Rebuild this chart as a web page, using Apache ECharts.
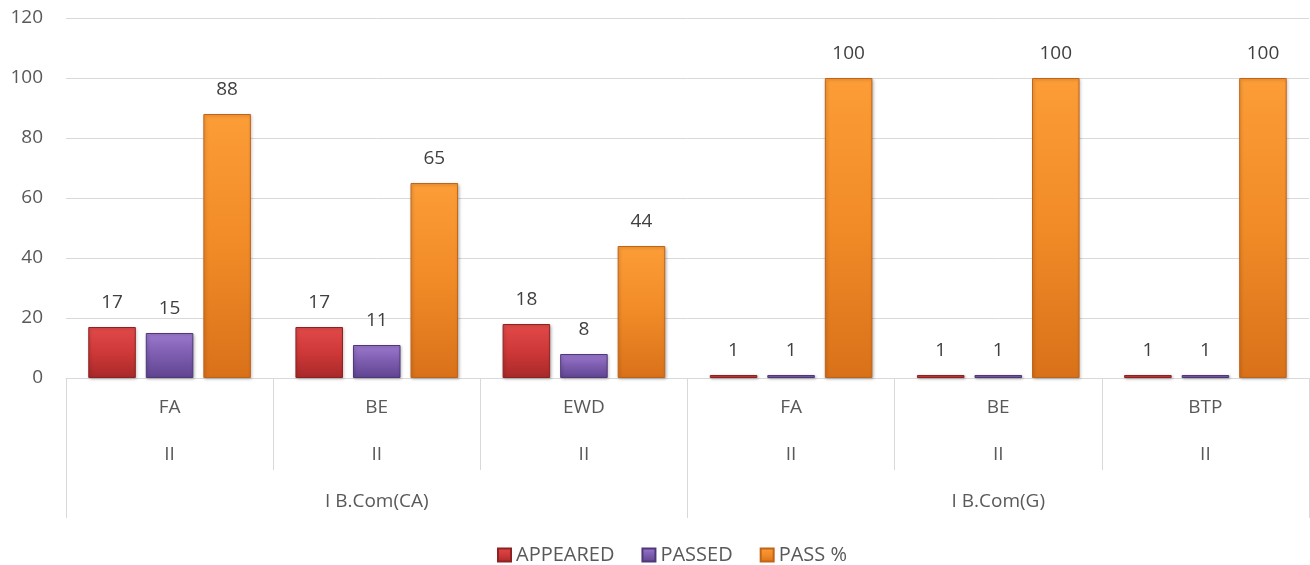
<!DOCTYPE html>
<html>
<head>
<meta charset="utf-8">
<script src="https://cdn.jsdelivr.net/npm/echarts@6/dist/echarts.min.js"></script>
<style>html,body{margin:0;padding:0;background:#fff}#c{width:1310px;height:565px}</style>
</head>
<body>
<div id="c"></div>
<script>
const subjects = ['FA', 'BE', 'EWD', 'FA', 'BE', 'BTP'];
const semesters = ['II', 'II', 'II', 'II', 'II', 'II'];
const courses = ['I B.Com(CA)', 'I B.Com(G)'];
const appeared = [17, 17, 18, 1, 1, 1];
const passed = [15, 11, 8, 1, 1, 1];
const passPct = [88, 65, 44, 100, 100, 100];
const yTicks = [0, 20, 40, 60, 80, 100, 120];

const FONT = '"Open Sans", "Noto Sans", sans-serif';
const FS = 19;
const TXT = '#595959';
const GRIDC = '#d9d9d9';

function grad(top, mid, bottom) {
  return new echarts.graphic.LinearGradient(0, 0, 0, 1, [
    {offset: 0, color: top}, {offset: 0.5, color: mid}, {offset: 1, color: bottom}
  ]);
}
function bar(name, data, fill, border) {
  return {
    name, type: 'bar', data, xAxisIndex: 0,
    barGap: '21%', barCategoryGap: '21.5%',
    itemStyle: {color: fill, borderColor: border, borderWidth: 1,
      shadowColor: 'rgba(0,0,0,0.25)', shadowBlur: 3, shadowOffsetX: 1, shadowOffsetY: 1},
    label: {show: true, position: 'top', distance: 15, color: '#404040', fontSize: FS, fontFamily: FONT}
  };
}

const chart = echarts.init(document.getElementById('c'), null, {renderer: 'canvas'});
chart.setOption({
  animation: false,
  backgroundColor: '#fff',
  textStyle: {fontFamily: FONT},
  grid: {left: 66, right: 1, top: 18, bottom: 187, containLabel: false},
  legend: {
    top: 540, left: 492, itemWidth: 13, itemHeight: 13, itemGap: 27,
    icon: 'rect',
    textStyle: {color: TXT, fontSize: 20, fontFamily: FONT},
    data: ['APPEARED', 'PASSED', 'PASS %']
  },
  yAxis: {
    type: 'value', min: 0, max: 120, interval: 20,
    axisLine: {show: false}, axisTick: {show: false},
    splitLine: {lineStyle: {color: GRIDC, width: 1}},
    axisLabel: {color: TXT, fontSize: FS, margin: 23, fontFamily: FONT,
      formatter: v => (yTicks.indexOf(v) >= 0 ? String(v) : '')}
  },
  xAxis: [
    {type: 'category', data: subjects, position: 'bottom',
     axisLine: {show: true, lineStyle: {color: GRIDC}},
     axisTick: {show: true, length: 92, lineStyle: {color: GRIDC}},
     axisLabel: {color: TXT, fontSize: FS, margin: 20, interval: 0, fontFamily: FONT}},
    {type: 'category', data: semesters, position: 'bottom',
     axisLine: {show: false}, axisTick: {show: false},
     axisLabel: {color: TXT, fontSize: FS, margin: 67, interval: 0, fontFamily: FONT}},
    {type: 'category', data: courses, position: 'bottom',
     axisLine: {show: false},
     axisTick: {show: true, length: 140, lineStyle: {color: GRIDC}},
     axisLabel: {color: TXT, fontSize: FS, margin: 114, interval: 0, fontFamily: FONT}}
  ],
  series: [
    bar('APPEARED', appeared, grad('#e24a4a', '#cf3838', '#a82929'), '#8e2222'),
    bar('PASSED', passed, grad('#9c79ce', '#7c5cae', '#5f4491'), '#4e3878'),
    bar('PASS %', passPct, grad('#fc9d37', '#f18b27', '#d9711a'), '#c0641a')
  ]
});
</script>
</body>
</html>
